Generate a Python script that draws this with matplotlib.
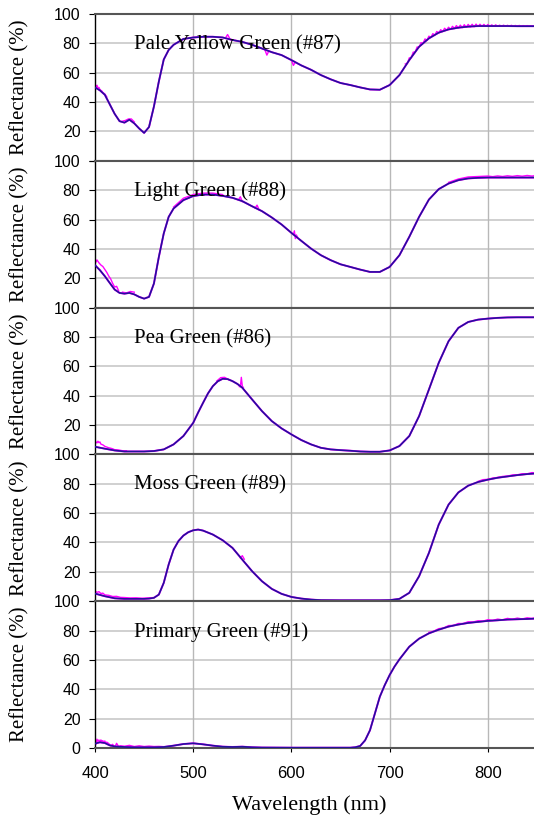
import numpy as np
import matplotlib.pyplot as plt

# --- data (wavelength nm, reflectance %) ---
names = ["Pale Yellow Green (#87)", "Light Green (#88)", "Pea Green (#86)",
         "Moss Green (#89)", "Primary Green (#91)"]

# fitted (blue) curves
p1_wl = [400, 405, 410, 420, 425, 430, 435, 440, 445, 450, 455, 460, 465, 470, 475, 480,
         490, 500, 510, 520, 530, 540, 550, 560, 570, 580, 590, 600, 610, 620, 630, 640,
         650, 660, 670, 680, 690, 700, 710, 720, 730, 740, 750, 760, 770, 780, 790, 800,
         810, 820, 830, 840, 850]
p1_val = [50, 48, 45, 32, 27, 26, 28, 25.5, 22, 19, 23, 37, 54, 69, 75.5, 79,
          83, 84, 84.5, 84.5, 84, 82.3, 81, 79, 76.5, 74, 72, 68.6, 65, 62, 58.4, 55.5,
          53, 51.6, 50, 48.6, 48.4, 51.6, 58.4, 68.6, 77.7, 83.4, 87.3, 89.5, 90.7, 91.4, 91.8, 91.8,
          91.8, 91.8, 91.7, 91.7, 91.7]

p2_wl = [400, 405, 410, 415, 420, 425, 430, 435, 440, 445, 450, 455, 460, 465, 470, 475,
         480, 490, 500, 510, 520, 530, 540, 550, 560, 570, 580, 590, 600, 610, 620, 630,
         640, 650, 660, 670, 680, 690, 700, 710, 720, 730, 740, 750, 760, 770, 780, 790,
         800, 810, 820, 830, 840, 850]
p2_val = [28.9, 25.5, 21.4, 16.8, 12.3, 10, 9.5, 10, 9, 7.3, 6.1, 7.3, 16.4, 34.5, 50.5, 61.8,
          67.5, 73.2, 76, 77, 77, 76.1, 74.8, 72.5, 69, 65.7, 61.4, 56.6, 50.9, 45.5, 40.2, 35.7,
          32.3, 29.5, 27.7, 25.9, 24.3, 24.3, 27.7, 35.7, 48.2, 61.8, 73.6, 80.7, 84.5, 86.8, 88, 88.4,
          88.6, 88.6, 88.6, 88.6, 88.6, 88.6]

p3_wl = [400, 410, 420, 430, 440, 450, 460, 470, 480, 490, 500, 505, 510, 515, 520, 525,
         530, 535, 540, 545, 550, 560, 570, 580, 590, 600, 610, 620, 630, 640, 650, 660,
         670, 680, 690, 700, 710, 720, 730, 740, 750, 760, 770, 780, 790, 800, 810, 820,
         830, 840, 850]
p3_val = [5.2, 3.9, 2.7, 2.0, 2.0, 2.0, 2.3, 3.4, 6.8, 12.5, 21.5, 28.5, 35.1, 41.5, 46.5, 49.8,
          51.5, 51.3, 49.9, 48.0, 45.4, 37.4, 29.5, 22.7, 17.7, 13.6, 9.8, 6.8, 4.5, 3.4, 2.9, 2.5,
          2.0, 1.8, 1.8, 2.7, 5.7, 12.5, 26.1, 44.2, 62.4, 77.1, 86.2, 90.2, 91.8, 92.5, 93.0, 93.3,
          93.4, 93.4, 93.4]

p4_wl = [400, 410, 420, 430, 440, 450, 455, 460, 465, 470, 475, 480, 485, 490, 495, 500, 505,
         510, 520, 530, 540, 550, 560, 570, 580, 590, 600, 610, 620, 630, 650, 670, 690, 700,
         710, 720, 730, 740, 750, 760, 770, 780, 790, 800, 810, 820, 830, 840, 850]
p4_val = [5.2, 3.4, 2.0, 1.6, 1.6, 1.6, 1.8, 2.3, 4.5, 12.5, 25, 35.1, 41.0, 44.7, 47.0, 48.3, 48.8,
          48.1, 45.4, 41.5, 36.3, 28.3, 20.4, 13.6, 8.4, 5.0, 2.9, 1.8, 1.1, 0.7, 0.6, 0.6, 0.6, 0.7,
          1.6, 5.7, 17, 32.9, 52.2, 65.8, 74.1, 78.7, 81.2, 82.8, 84.1, 85, 85.9, 86.6, 87.1]

p5_wl = [400, 405, 410, 415, 420, 430, 440, 450, 460, 470, 480, 490, 500, 510, 520, 530,
         540, 550, 560, 570, 600, 630, 660, 665, 670, 675, 680, 685, 690, 695, 700, 705, 710,
         720, 730, 740, 750, 760, 770, 780, 790, 800, 810, 820, 830, 840, 850]
p5_val = [3.0, 3.9, 3.4, 1.8, 1.1, 0.7, 0.5, 0.5, 0.5, 0.7, 1.6, 2.7, 3.2, 2.5, 1.6, 0.9,
          0.7, 0.9, 0.5, 0.3, 0.2, 0.2, 0.2, 0.5, 1.4, 5.2, 12.1, 23.5, 34.9, 42.8, 49.7, 55.5, 60.4,
          69, 74.5, 78.1, 80.6, 82.7, 84.1, 85.2, 85.9, 86.6, 87, 87.5, 87.7, 87.9, 88.2]

# measured (magenta) traces where they stray from the fit
p1_noise = [
    ([400, 401, 402, 403, 404, 405, 406, 407, 408, 410, 412],
     [52, 50.5, 51.5, 49.5, 50, 48.5, 48, 47.5, 46.5, 45.5, 43.5]),
    ([428, 431, 434, 437, 440], [27, 27.5, 28.5, 28.5, 26.5]),
    ([533, 535, 537], [83.8, 86, 83.5]),
    ([573, 575, 577], [75.6, 72, 74.8]),
    ([600, 602, 604], [68.6, 65, 67.2]),
    ([716, 718, 720, 722, 724, 726, 728, 730, 732, 734, 736, 738, 740, 742, 744, 746,
      748, 750, 752, 754, 756, 758, 760, 762, 764, 766, 768, 770, 772, 774, 776, 778,
      780, 782, 784, 786, 788, 790, 792, 794, 796, 798, 800, 802, 804, 806, 808, 810,
      812, 814, 816, 818, 820, 822, 824, 826, 828, 830, 832, 834, 836, 838, 840, 842,
      844, 846, 848, 850],
     [66.0, 66.2, 70.1, 70.2, 74.0, 74.0, 77.5, 77.4, 80.5, 80.0, 83.0, 82.2, 84.9, 84.0, 86.6, 85.6,
      88.1, 87.0, 89.3, 88.0, 90.3, 88.9, 91.0, 89.5, 91.6, 90.1, 92.1, 90.4, 92.4, 90.7, 92.7, 91.0,
      92.9, 91.2, 93.0, 91.3, 93.1, 91.5, 93.0, 91.6, 92.9, 91.6, 92.8, 91.6, 92.6, 91.6, 92.6, 91.6,
      92.4, 91.6, 92.4, 91.6, 92.3, 91.6, 92.3, 91.6, 92.2, 91.6, 92.2, 91.6, 92.1, 91.6, 92.1, 91.6,
      92.0, 91.6, 92.0, 91.6]),
]
p2_noise = [
    ([400, 401, 402, 404, 406, 408, 410, 412, 414, 416, 418, 420, 422, 424],
     [33, 31, 32.5, 30.5, 29, 28, 26, 24, 21.5, 19.5, 16.5, 14, 14.5, 11.5]),
    ([428, 432, 436, 440], [10.5, 10, 11, 10.5]),
    ([480, 490, 500, 510, 520, 530], [68.5, 74.5, 77, 78, 78, 77]),
    ([546, 548, 550], [73.4, 75.5, 72.2]),
    ([563, 565, 567], [67.8, 69.8, 66.8]),
    ([602, 603, 604, 605, 606], [49.8, 52.3, 47, 49.5, 48.3]),
    ([760, 770, 780, 790, 800, 805, 810, 815, 820, 825, 830, 835, 840, 845, 850],
     [85.3, 87.6, 89.0, 89.3, 89.6, 89.2, 89.7, 89.3, 89.8, 89.4, 89.9, 89.5, 90.0, 89.6, 90.1]),
]
p3_noise = [
    ([400, 401, 402, 403, 404, 405, 406, 408, 410, 412, 414, 416, 418, 420, 424, 428, 432],
     [7.5, 8.5, 7.8, 9, 8, 8.5, 7, 6.5, 5.5, 5, 4.5, 4.2, 3.8, 3.2, 3, 2.5, 2.5]),
    ([524, 528, 532, 536], [50, 52.3, 52.5, 51]),
    ([547, 548, 549, 550, 551], [46.2, 46, 52.5, 46.5, 45.6]),
]
p4_noise = [
    ([400, 402, 404, 406, 408, 410, 414, 418, 422, 426, 430, 436, 442, 448, 454, 460],
     [7, 6, 6.5, 5.2, 5.5, 4.3, 4, 3.2, 3.3, 2.6, 2.5, 2.2, 2.3, 2, 2.2, 2.5]),
    ([548, 550, 552], [29.5, 31, 28.6]),
    ([790, 795, 800, 805, 810, 815, 820, 825, 830, 835, 840, 845, 850],
     [81.6, 82.8, 83.0, 83.9, 84.3, 85.0, 85.2, 86.0, 86.1, 86.8, 86.8, 87.6, 87.3]),
]
p5_noise = [
    ([400, 401, 402, 403, 404, 405, 406, 407, 408, 409, 410, 411, 412, 414, 416, 418, 420,
      422, 424, 426, 430, 435, 440, 445, 450, 455, 460, 465, 470],
     [4, 2.5, 6, 4.5, 5.5, 4, 5.5, 4.5, 5, 3.5, 4.8, 3.2, 4, 3, 1.5, 2.5, 0.3,
      3.2, 1, 1.5, 1.2, 1.8, 1, 1.5, 1, 1.3, 1, 1.1, 0.9]),
    ([740, 745, 750, 755, 760, 765, 770, 775, 780, 785, 790, 795, 800, 805, 810, 815, 820,
      825, 830, 835, 840, 845, 850],
     [78.8, 79.6, 81.3, 81.7, 83.4, 83.5, 84.8, 84.8, 86.0, 85.8, 86.7, 86.4, 87.4, 86.9, 87.8,
      87.3, 88.3, 87.7, 88.5, 87.9, 88.7, 88.2, 89.0]),
]

fits = [(p1_wl, p1_val), (p2_wl, p2_val), (p3_wl, p3_val), (p4_wl, p4_val), (p5_wl, p5_val)]
noises = [p1_noise, p2_noise, p3_noise, p4_noise, p5_noise]

blue = '#24109e'
magenta = '#ff00ff'
serif = 'Liberation Serif'
sans = 'Liberation Sans'

fig = plt.figure(figsize=(5.34, 8.19), dpi=100)
left, right = 95 / 534, 1.0
top, bottom = 1 - 14 / 819, 1 - 748 / 819
h = (top - bottom) / 5

for i, name in enumerate(names):
    ax = fig.add_axes([left, top - (i + 1) * h, right - left, h])
    wl, val = fits[i]
    # measured trace: follows the fit, plus its noisy bits
    ax.plot(wl, val, color=magenta, lw=1.4, zorder=2)
    for nwl, nval in noises[i]:
        ax.plot(nwl, nval, color=magenta, lw=1.0, zorder=2)
    ax.plot(wl, val, color=blue, lw=1.2, zorder=3)

    ax.set_xlim(400, 847)
    ax.set_ylim(0, 100)
    ax.set_yticks([0, 20, 40, 60, 80, 100])
    ax.set_xticks([400, 500, 600, 700, 800])
    for y in [20, 40, 60, 80]:
        ax.axhline(y, color='#c8c8c8', lw=1.2, zorder=1)
    for x in [500, 600, 700, 800]:
        ax.axvline(x, color='#b8b8b8', lw=1.0, zorder=1)

    for s in ['top', 'bottom']:
        ax.spines[s].set_color('#555555')
        ax.spines[s].set_linewidth(1.5)
    ax.spines['right'].set_visible(False)
    ax.spines['left'].set_color('black')
    ax.spines['left'].set_linewidth(1.0)

    ax.tick_params(axis='y', direction='out', length=4.5, width=0.8, pad=6, labelsize=11.5)
    labels = ['0' if i == 4 else '', '20', '40', '60', '80', '100']
    ax.set_yticklabels(labels, fontfamily=sans)
    if i == 4:
        ax.tick_params(axis='x', direction='out', length=3, width=0.8, pad=10, labelsize=12)
        ax.set_xticklabels(['400', '500', '600', '700', '800'], fontfamily=sans)
    else:
        ax.tick_params(axis='x', length=0, labelbottom=False)

    ax.text(440, 79, name, fontfamily=serif, fontsize=15, va='center', ha='left', zorder=4)

    yc = top - (i + 0.5) * h
    fig.text(19.5 / 534, yc, 'Reflectance (%)', rotation=90, ha='center', va='center',
             fontfamily=serif, fontsize=15)

fig.text(309.5 / 534, 1 - 805 / 819, 'Wavelength (nm)', ha='center', va='center',
         fontfamily=serif, fontsize=16)

fig.savefig('out.png', dpi=100)
